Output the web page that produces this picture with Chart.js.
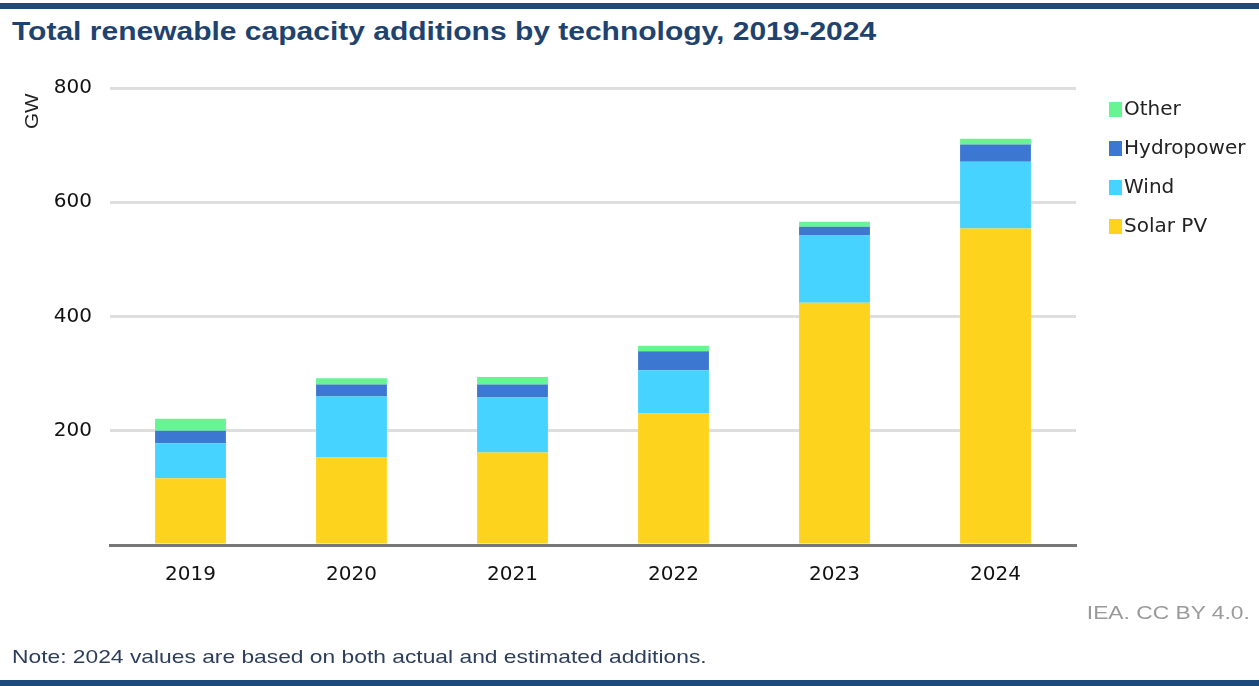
<!DOCTYPE html>
<html>
<head>
<meta charset="utf-8">
<script src="https://cdn.jsdelivr.net/npm/chart.js@4.4.1/dist/chart.umd.min.js"></script>
<style>
  html, body { margin: 0; padding: 0; background: #fff; }
  body { width: 1259px; height: 686px; position: relative; overflow: hidden; font-family: "Liberation Sans", Arial, sans-serif; }
  .rule { position: absolute; left: 0; width: 1259px; height: 6px; background: #1d4a7c; }
  .wide { transform: scaleX(1.2); transform-origin: left top; white-space: nowrap; }
  #title { position: absolute; left: 12px; top: 17px; font-size: 25px; font-weight: bold; color: #1f436f; }
  #source { position: absolute; right: 9px; top: 602px; font-size: 19px; color: #9a9a9a; transform-origin: right top; }
  #note { position: absolute; left: 12px; top: 646px; font-size: 19px; color: #2c3e5c; }
  #unit { position: absolute; left: 22px; top: 129px; font-size: 18px; color: #222; transform: rotate(-90deg) scaleX(1.15); transform-origin: left top; }
  #wrap { position: absolute; left: 0; top: 0; width: 1259px; height: 686px; }
</style>
</head>
<body>
<div class="rule" style="top:3px"></div>
<div id="title" class="wide">Total renewable capacity additions by technology, 2019-2024</div>
<div id="wrap"><canvas id="chart"></canvas></div>
<div id="unit">GW</div>
<div id="source" class="wide">IEA. CC BY 4.0.</div>
<div id="note" class="wide">Note: 2024 values are based on both actual and estimated additions.</div>
<div class="rule" style="top:680px"></div>

<script>
// Capacity additions in GW, per year
const years = ['2019', '2020', '2021', '2022', '2023', '2024'];
const solarPV = [117, 153, 162, 230, 424, 554];
const wind = [61, 107, 96, 76, 118, 117];
const hydropower = [22, 21, 23, 33, 15, 30];
const other = [21, 11, 13, 10, 9, 10];
const yTicks = [200, 400, 600, 800];

const tickFont = { family: '"DejaVu Sans", sans-serif', size: 20 };

// Legend drawn on the right, top to bottom: Other, Hydropower, Wind, Solar PV
const sideLegend = {
  id: 'sideLegend',
  afterDraw(chart) {
    const ctx = chart.ctx;
    const items = chart.data.datasets.slice().reverse();
    ctx.save();
    ctx.font = '20px "DejaVu Sans", sans-serif';
    ctx.textBaseline = 'middle';
    items.forEach((ds, i) => {
      const y = 109 + i * 39;
      ctx.fillStyle = ds.backgroundColor;
      ctx.fillRect(1109, y - 7, 13, 15);
      ctx.fillStyle = '#222';
      ctx.fillText(ds.label, 1124, y + 1);
    });
    ctx.restore();
  }
};

const ctx = document.getElementById('chart').getContext('2d');
new Chart(ctx, {
  type: 'bar',
  data: {
    labels: years,
    datasets: [
      { label: 'Solar PV', data: solarPV, backgroundColor: '#fdd31e' },
      { label: 'Wind', data: wind, backgroundColor: '#46d3ff' },
      { label: 'Hydropower', data: hydropower, backgroundColor: '#3c78d2' },
      { label: 'Other', data: other, backgroundColor: '#66f592' }
    ]
  },
  options: {
    responsive: true,
    maintainAspectRatio: false,
    animation: false,
    layout: { padding: { left: 0, right: 183, top: 88, bottom: 101 } },
    datasets: { bar: { barPercentage: 0.44, categoryPercentage: 1 } },
    plugins: { legend: { display: false }, tooltip: { enabled: false } },
    scales: {
      x: {
        stacked: true,
        grid: { display: false },
        border: { display: true, color: '#777', width: 3 },
        ticks: { color: '#111', padding: 10, maxRotation: 0, font: tickFont },
        afterFit(scale) { scale.height = 40; }
      },
      y: {
        stacked: true,
        min: 0,
        max: 800,
        afterBuildTicks(scale) { scale.ticks = [0].concat(yTicks).map(v => ({ value: v })); },
        grid: { color: c => c.tick.value === 0 ? 'rgba(0,0,0,0)' : '#dedede', lineWidth: 3, drawTicks: false },
        border: { display: false },
        ticks: {
          color: '#111',
          padding: 18,
          font: tickFont,
          callback: v => v === 0 ? '' : v
        },
        afterFit(scale) { scale.width = 110; }
      }
    }
  },
  plugins: [sideLegend]
});
</script>
</body>
</html>
